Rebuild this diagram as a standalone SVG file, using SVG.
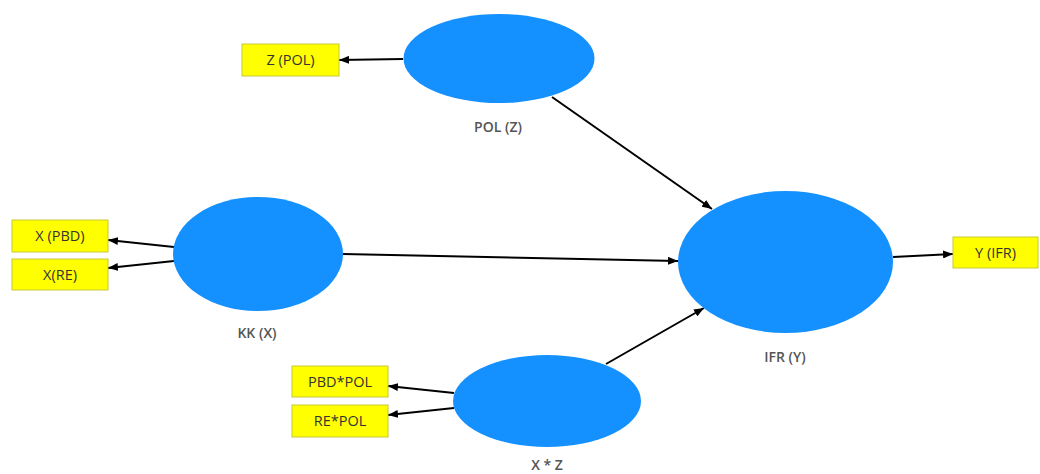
<svg xmlns="http://www.w3.org/2000/svg" width="1040" height="474" viewBox="0 0 1040 474">
<style>
.lv{fill:#1591FF;}
.ind{fill:#FFFF00;stroke:#C9C935;stroke-width:1;}
.it{font-family:"Open Sans","Liberation Sans",sans-serif;font-size:14.5px;fill:#333;text-anchor:middle;}
.lb{font-family:"Open Sans","Liberation Sans",sans-serif;font-size:14px;font-weight:600;fill:#555;text-anchor:middle;}
.c{stroke:#000;stroke-width:2;fill:none;marker-end:url(#ah);}
</style>
<defs>
<marker id="ah" viewBox="0 0 10 8" refX="10" refY="4" markerWidth="10" markerHeight="8" markerUnits="userSpaceOnUse" orient="auto">
<path d="M0,0 L10,4 L0,8 Z" fill="#000"/>
</marker>
</defs>
<rect width="1040" height="474" fill="#fff"/>
<g id="connectors">
<line class="c" x1="403" y1="59" x2="339" y2="60"/>
<line class="c" x1="552" y1="97" x2="712" y2="209"/>
<line class="c" x1="174" y1="247" x2="108" y2="240"/>
<line class="c" x1="174" y1="261" x2="108" y2="268"/>
<line class="c" x1="343" y1="254" x2="678" y2="261"/>
<line class="c" x1="454" y1="393" x2="388" y2="386"/>
<line class="c" x1="454" y1="408" x2="388" y2="415"/>
<line class="c" x1="606" y1="364" x2="704" y2="308"/>
<line class="c" x1="893" y1="257" x2="953" y2="254"/>
</g>
<g id="POL">
<ellipse class="lv" cx="499" cy="58.5" rx="95.5" ry="44.5"/>
<text class="lb" x="498" y="132">POL (Z)</text>
</g>
<g id="ZPOL">
<rect class="ind" x="242" y="44" width="97" height="32"/>
<text class="it" x="290.5" y="65">Z (POL)</text>
</g>
<g id="KK">
<ellipse class="lv" cx="258" cy="254" rx="85" ry="57"/>
<text class="lb" x="257" y="338">KK (X)</text>
</g>
<g id="XPBD">
<rect class="ind" x="12" y="220" width="96" height="32"/>
<text class="it" x="60" y="241">X (PBD)</text>
</g>
<g id="XRE">
<rect class="ind" x="12" y="259" width="96" height="31"/>
<text class="it" x="60" y="279.5">X(RE)</text>
</g>
<g id="XZ">
<ellipse class="lv" cx="547" cy="401" rx="94" ry="46"/>
<text class="lb" x="547" y="470">X * Z</text>
</g>
<g id="PBDPOL">
<rect class="ind" x="292" y="366" width="96" height="31"/>
<text class="it" x="340" y="386.5">PBD*POL</text>
</g>
<g id="REPOL">
<rect class="ind" x="292" y="405" width="96" height="32"/>
<text class="it" x="340" y="426">RE*POL</text>
</g>
<g id="IFR">
<ellipse class="lv" cx="785.5" cy="262" rx="107.5" ry="71"/>
<text class="lb" x="785" y="362">IFR (Y)</text>
</g>
<g id="YIFR">
<rect class="ind" x="953" y="237" width="85" height="31"/>
<text class="it" x="995.5" y="257.5">Y (IFR)</text>
</g>
</svg>
